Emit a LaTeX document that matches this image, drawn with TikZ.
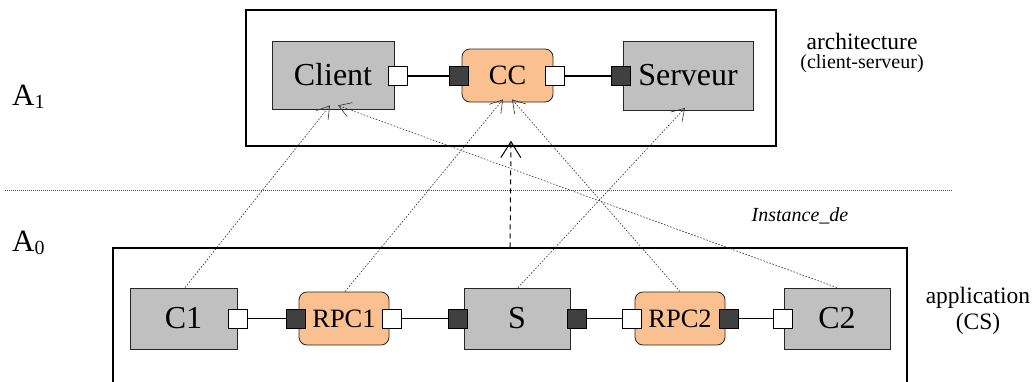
\documentclass[tikz,border=0pt]{standalone}
\usepackage{fontspec}
\setmainfont{Liberation Serif}
\usetikzlibrary{arrows.meta}
\definecolor{boxgray}{HTML}{C0C0C0}
\definecolor{boxorange}{HTML}{FAC090}
\definecolor{portdark}{HTML}{404040}
\newcommand{\fs}[1]{\fontsize{#1}{#1}\selectfont}
\begin{document}
\begin{tikzpicture}[x=1pt,y=-1pt,
  container/.style={draw=black, line width=1.4pt, inner sep=0pt},
  graybox/.style={draw=black!85, line width=0.8pt, fill=boxgray, inner sep=0pt, font=\fs{32}},
  orangebox/.style={draw=black!85, line width=0.8pt, fill=boxorange, rounded corners=8pt, inner sep=0pt,
    minimum width=90pt, minimum height=53pt, font=\fs{26.5}},
  wport/.style={draw=black, line width=1pt, fill=white, minimum size=19pt, inner sep=0pt},
  dport/.style={draw=black, line width=1pt, fill=portdark, minimum size=19pt, inner sep=0pt},
  link/.style={line width=1.3pt, black},
  inst/.style={line width=0.6pt, black!80, dash pattern=on 1.6pt off 1.6pt,
    -{Straight Barb[length=12pt,width=15pt,line width=0.6pt]}},
  lbl/.style={inner sep=0pt, align=center}]
\useasboundingbox (0,0) rectangle (1035,381);
\fill[white] (0,0) rectangle (1035,381);

% containers
\node[container, minimum width=530pt, minimum height=136pt] (top) at (511,78) {};
\node[container, minimum width=794pt, minimum height=160pt] (bot) at (510,328) {};

% level separator
\coordinate (sepL) at (5,190);
\coordinate (sepR) at (952,190);
\draw[line width=0.6pt, black!70, dash pattern=on 1pt off 1pt] (sepL) -- (sepR);

% architecture A1
\node[graybox, minimum width=122pt, minimum height=68pt] (client) at (333,75) {Client};
\node[orangebox, minimum width=91pt] (cc) at (507.5,75.5) {\fs{28}CC};
\node[graybox, minimum width=130pt, minimum height=69pt] (serveur) at (688,75.5) {Serveur};
\node[wport] (pcl) at (397.5,76) {};
\node[dport] (pcc1) at (458.5,76) {};
\node[wport] (pcc2) at (554.5,76) {};
\node[dport] (psv) at (621,76) {};
\draw[link] (pcl) -- (pcc1);
\draw[link] (pcc2) -- (psv);

% application A0
\node[graybox, minimum width=107pt, minimum height=61pt] (c1) at (183.5,318.5) {C1};
\node[orangebox] (rpc1) at (344,318.5) {RPC1};
\node[graybox, minimum width=106pt, minimum height=61pt] (s) at (517,318.5) {S};
\node[orangebox] (rpc2) at (680,318.5) {RPC2};
\node[graybox, minimum width=106pt, minimum height=61pt] (c2) at (837,318.5) {C2};
\node[wport] (pc1) at (238,318.5) {};
\node[dport] (pr1a) at (295.5,318.5) {};
\node[wport] (pr1b) at (391.5,318.5) {};
\node[dport] (psa) at (458,318.5) {};
\node[dport] (psb) at (577,318.5) {};
\node[wport] (pr2a) at (631.5,318.5) {};
\node[dport] (pr2b) at (728.5,318.5) {};
\node[wport] (pc2) at (783,318.5) {};
\draw[link] (pc1) -- (pr1a);
\draw[link] (pr1b) -- (psa);
\draw[link] (psb) -- (pr2a);
\draw[link] (pr2b) -- (pc2);

% instance-of links
\draw[inst] ([xshift=1.5pt]c1.north) -- ([xshift=-3pt,yshift=4pt]client.south);
\draw[inst] (c2.north) -- ([xshift=5pt,yshift=4pt]client.south);
\draw[inst] ([xshift=1pt]rpc1.north) -- ([xshift=-4.5pt,yshift=3pt]cc.south);
\draw[inst] (rpc2.north) -- ([xshift=4.5pt,yshift=3pt]cc.south);
\draw[inst] ([xshift=1pt]s.north) -- ([xshift=-3pt,yshift=2.5pt]serveur.south);
\draw[line width=1pt, dash pattern=on 5pt off 4pt,
  -{Straight Barb[length=16pt,width=20pt,line width=1pt]}] (bot.north) -- ([yshift=6pt]top.south);

% labels
\node[lbl, font=\fs{23.5}] (arch) at (862,41) {architecture};
\node[lbl, font=\fs{20}] (archsub) at (862,64) {(client-serveur)};
\node[lbl, font=\fs{23.5}] (appl) at (978,298) {application};
\node[lbl, font=\fs{23.5}] (applsub) at (978,324) {(CS)};
\node[lbl, font=\fs{20}\itshape] (instde) at (800,216) {Instance\_de};
\node[lbl, anchor=west, font=\fs{31}] (a1) at (12,97) {A\raisebox{-3pt}{\fs{20}1}};
\node[lbl, anchor=west, font=\fs{31}] (a0) at (12,243) {A\raisebox{-3pt}{\fs{20}0}};
\end{tikzpicture}
\end{document}
